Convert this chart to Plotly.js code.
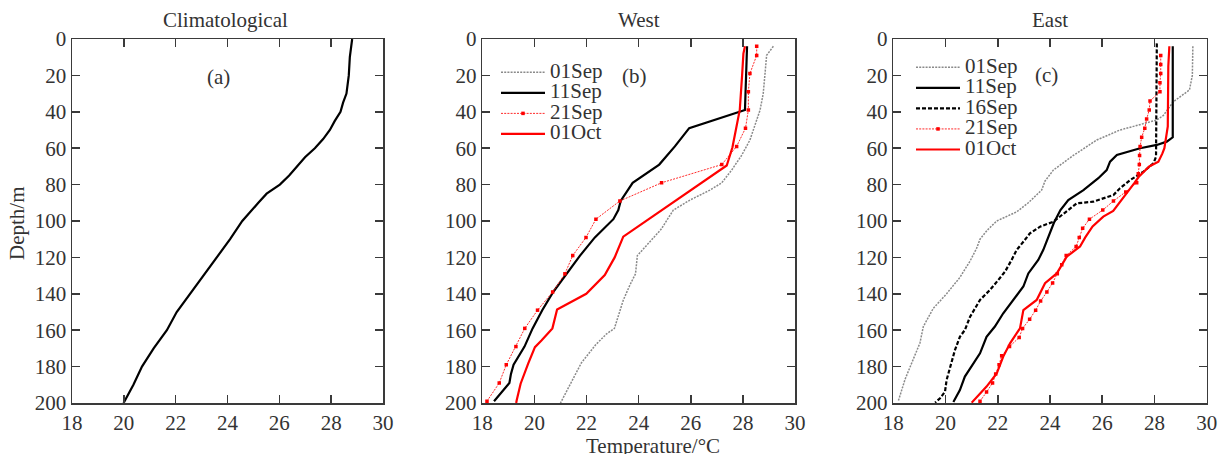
<!DOCTYPE html>
<html>
<head>
<meta charset="utf-8">
<script src="https://cdn.plot.ly/plotly-3.0.1.min.js"></script>
<style>html,body{margin:0;padding:0;background:#fff;}#chart{width:1222px;height:454px;}</style>
</head>
<body>
<div id="chart"></div>
<script>
// ---------- data (temperature °C vs depth m) ----------
const panelTitles = ["Climatological", "West", "East"];
const panelTags = ["(a)", "(b)", "(c)"];
const xTicks = [18, 20, 22, 24, 26, 28, 30];
const yTicks = [0, 20, 40, 60, 80, 100, 120, 140, 160, 180, 200];

const climDepth = [0,10,20,30,35,40,45,50,55,60,65,70,75,80,85,90,95,100,110,120,130,140,150,160,170,180,190,200];
const climTemp  = [28.81,28.72,28.68,28.59,28.46,28.36,28.14,27.95,27.69,27.37,26.99,26.67,26.38,26.02,25.51,25.19,24.87,24.57,24.10,23.58,23.07,22.56,22.04,21.66,21.15,20.70,20.37,19.99];

// West
const w01SepDepth = [4,9,19,30,39,48,55.5,64,72,79,83,88.5,94,104.6,119,129,135,143.5,149,159,162,168,178,188,200];
const w01SepTemp  = [29.17,28.91,28.85,28.78,28.66,28.46,28.27,27.95,27.57,27.19,26.74,25.97,25.33,24.86,23.95,23.88,23.67,23.41,23.30,23.07,22.77,22.35,21.80,21.45,21.00];
const w11SepDepth = [4,39,49,59,69,79,89,94,99,109,119,129,139,149,159,169,179,184,189,199];
const w11SepTemp  = [28.16,28.08,25.94,25.39,24.79,23.77,23.31,23.22,23.03,22.32,21.75,21.24,20.72,20.30,19.93,19.62,19.20,19.10,19.04,18.45];
const w21SepDepth = [4,9,19,29,39,49,59,69,79,89,99,109,119,129,139,149,159,169,179,189,199];
const w21SepTemp  = [28.53,28.53,28.27,28.21,28.21,28.10,27.76,27.19,24.88,23.28,22.36,21.98,21.47,21.17,20.70,20.12,19.63,19.29,18.92,18.65,18.18];
const w01OctDepth = [4,8,20,39,59.5,69.5,108.6,120,129.7,140,148.6,159,165.6,169.3,178.4,189.4,198.5,200];
const w01OctTemp  = [28.08,28.02,27.97,27.88,27.60,27.38,23.41,23.08,22.70,21.99,20.87,20.69,20.27,20.02,19.76,19.47,19.32,19.30];

// East
const e01SepDepth = [4,20,28,34.5,42,44.5,48,50,55.5,64,72,78,83,90,95,100,105,110,115,122,131,140,148,158,167,176,187,199];
const e01SepTemp  = [29.47,29.45,29.34,28.72,28.34,28.09,27.20,26.68,25.79,24.89,24.13,23.81,23.68,23.17,22.72,21.96,21.60,21.32,21.19,20.94,20.55,20.04,19.53,19.15,19.02,18.77,18.45,18.19];
const e11SepDepth = [4,54,56.4,58.2,60,63.7,67.4,72,76.5,83,88.5,94,101,108.6,116,121.4,128.8,136,143.4,150.7,158,163.6,172.7,180,185.5,192.9,199.5];
const e11SepTemp  = [28.70,28.70,28.47,28.09,27.45,26.56,26.30,26.17,25.85,25.28,24.70,24.40,24.15,23.94,23.74,23.55,23.17,22.98,22.60,22.21,21.89,21.57,21.32,21.00,20.74,20.55,20.30];
const e16SepDepth = [2.4,64.7,68.3,72.9,77.5,82,85.7,89.4,90.3,95.3,100.4,103.1,106.8,111.4,116,121.4,127.8,132.4,137.9,143.4,148,152.6,159.9,163.6,170.9,180,187.4,193.8,197.4,199.8];
const e16SepTemp  = [28.09,28.06,27.96,27.58,27.07,26.68,26.43,25.66,25.02,24.60,24.13,23.62,23.23,22.98,22.72,22.53,22.28,22.02,21.70,21.32,21.13,20.94,20.74,20.55,20.36,20.17,20.04,19.98,19.79,19.60];
const e21SepDepth = [9,14,19,24,29,34,39,44,49,54,59,64,69,74,79,84,89,94,99,104,109,114,119,124,129,134,139,144,149,154,159,164,169,174,179,184,189,194,199];
const e21SepTemp  = [28.24,28.24,28.24,28.21,28.21,27.83,27.80,27.70,27.63,27.51,27.45,27.43,27.42,27.38,27.32,26.90,26.43,26.02,25.51,25.25,25.12,25.00,24.62,24.45,24.28,24.10,23.88,23.64,23.45,23.22,22.95,22.82,22.45,22.15,22.05,21.92,21.80,21.57,21.32];
const e01OctDepth = [4,15,48,55.5,60,63,67.4,70,75.7,79.3,84.8,90.3,94.5,97.6,103,109,114,119.6,124,128.8,134.2,143.4,148.9,159,167.2,174.5,183.7,191,199.8];
const e01OctTemp  = [28.57,28.53,28.51,28.44,28.38,28.30,28.15,27.80,27.40,27.22,26.94,26.65,26.42,26.04,25.63,25.35,25.15,24.64,24.45,24.26,23.81,23.49,22.98,22.85,22.47,22.21,21.96,21.57,21.00];

// ---------- styles ----------
const FONT = '"Liberation Serif", "Times New Roman", Times, serif';
const TXT = "#333";
const AX = "#3a3a3a";
const sGray  = {color: "#8a8a8a", width: 1.5, dash: "2px,1.2px"};
const sBlack = {color: "#000", width: 2.2};
const sBlackDash = {color: "#000", width: 2.2, dash: "4px,2px"};
const sRedDot = {color: "#ff2a2a", width: 1, dash: "2px,1.2px"};
const sRed = {color: "#ff0000", width: 2.2};

function lbl(t){ return '<span style="font-size:21px">' + t + '</span>'; }

function tr(x, y, name, line, xa, ya, legend, markers){
  const t = {type: "scatter", x: x, y: y, name: lbl(name), line: line,
    mode: markers ? "lines+markers" : "lines", xaxis: xa, yaxis: ya,
    showlegend: !!legend, legend: legend || "legend", hoverinfo: "skip"};
  if (markers) t.marker = {size: 3.5, color: "#ff0000", symbol: "square"};
  return t;
}

const data = [
  tr(climTemp, climDepth, "Climatological", sBlack, "x", "y", null),
  tr(w01SepTemp, w01SepDepth, "01Sep", sGray, "x2", "y2", "legend"),
  tr(w11SepTemp, w11SepDepth, "11Sep", sBlack, "x2", "y2", "legend"),
  tr(w21SepTemp, w21SepDepth, "21Sep", sRedDot, "x2", "y2", "legend", true),
  tr(w01OctTemp, w01OctDepth, "01Oct", sRed, "x2", "y2", "legend"),
  tr(e01SepTemp, e01SepDepth, "01Sep", sGray, "x3", "y3", "legend2"),
  tr(e11SepTemp, e11SepDepth, "11Sep", sBlack, "x3", "y3", "legend2"),
  tr(e16SepTemp, e16SepDepth, "16Sep", sBlackDash, "x3", "y3", "legend2"),
  tr(e21SepTemp, e21SepDepth, "21Sep", sRedDot, "x3", "y3", "legend2", true),
  tr(e01OctTemp, e01OctDepth, "01Oct", sRed, "x3", "y3", "legend2")
];

const W = 1222, H = 454;
const px = v => v / W, py = v => 1 - v / H;
const xDomains = [[72, 383], [482.3, 795], [893.3, 1206.7]];
const yDom = [py(403), py(39)];

function xAx(i){
  return {domain: [px(xDomains[i][0]), px(xDomains[i][1])], range: [18, 30],
    tickvals: xTicks, ticktext: xTicks.map(String), ticks: "inside", ticklen: 8, tickwidth: 1.5,
    tickcolor: AX, showline: true, linecolor: AX, linewidth: 1.5, mirror: "ticks",
    showgrid: false, zeroline: false, anchor: i ? "y" + (i + 1) : "y",
    tickfont: {family: FONT, size: 21, color: TXT}};
}
function yAx(i){
  return {domain: yDom, range: [200, 0], tickvals: yTicks, ticktext: yTicks.map(String),
    ticks: "inside", ticklen: 8, tickwidth: 1.5, tickcolor: AX, showline: true,
    linecolor: AX, linewidth: 1.5, mirror: "ticks", showgrid: false, zeroline: false,
    anchor: i ? "x" + (i + 1) : "x", tickfont: {family: FONT, size: 21, color: TXT}};
}

const titleX = [226, 639, 1050];
const tagPos = [[219, 76.5], [635, 76], [1046.7, 75]];
const annotations = [];
for (let i = 0; i < 3; i++) {
  annotations.push({text: panelTitles[i], xref: "paper", yref: "paper", x: px(titleX[i]), y: py(20),
    xanchor: "center", yanchor: "middle", showarrow: false, font: {family: FONT, size: 21, color: TXT}});
  annotations.push({text: panelTags[i], xref: "paper", yref: "paper", x: px(tagPos[i][0]), y: py(tagPos[i][1]),
    xanchor: "center", yanchor: "middle", showarrow: false, font: {family: FONT, size: 21, color: TXT}});
}
annotations.push({text: "Depth/m", textangle: -90, xref: "paper", yref: "paper", x: px(17), y: py(223),
  xanchor: "center", yanchor: "middle", showarrow: false, font: {family: FONT, size: 21, color: TXT}});
annotations.push({text: "Temperature/°C", xref: "paper", yref: "paper", x: px(653), y: py(446),
  xanchor: "center", yanchor: "middle", showarrow: false, font: {family: FONT, size: 21, color: TXT}});

const legendBase = {font: {family: FONT, size: 13.5, color: TXT}, bgcolor: "rgba(0,0,0,0)",
  borderwidth: 0, xanchor: "left", yanchor: "top", itemwidth: 44, tracegroupgap: 0,
  itemclick: false, itemdoubleclick: false};

const layout = {
  width: W, height: H, margin: {l: 0, r: 0, t: 0, b: 0},
  paper_bgcolor: "#fff", plot_bgcolor: "#fff", showlegend: true,
  font: {family: FONT, color: TXT},
  xaxis: xAx(0), xaxis2: xAx(1), xaxis3: xAx(2),
  yaxis: yAx(0), yaxis2: yAx(1), yaxis3: yAx(2),
  legend: Object.assign({}, legendBase, {x: px(496), y: py(57)}),
  legend2: Object.assign({}, legendBase, {x: px(911), y: py(52)}),
  annotations: annotations
};

Plotly.newPlot("chart", data, layout, {staticPlot: true, displayModeBar: false});
</script>
</body>
</html>
